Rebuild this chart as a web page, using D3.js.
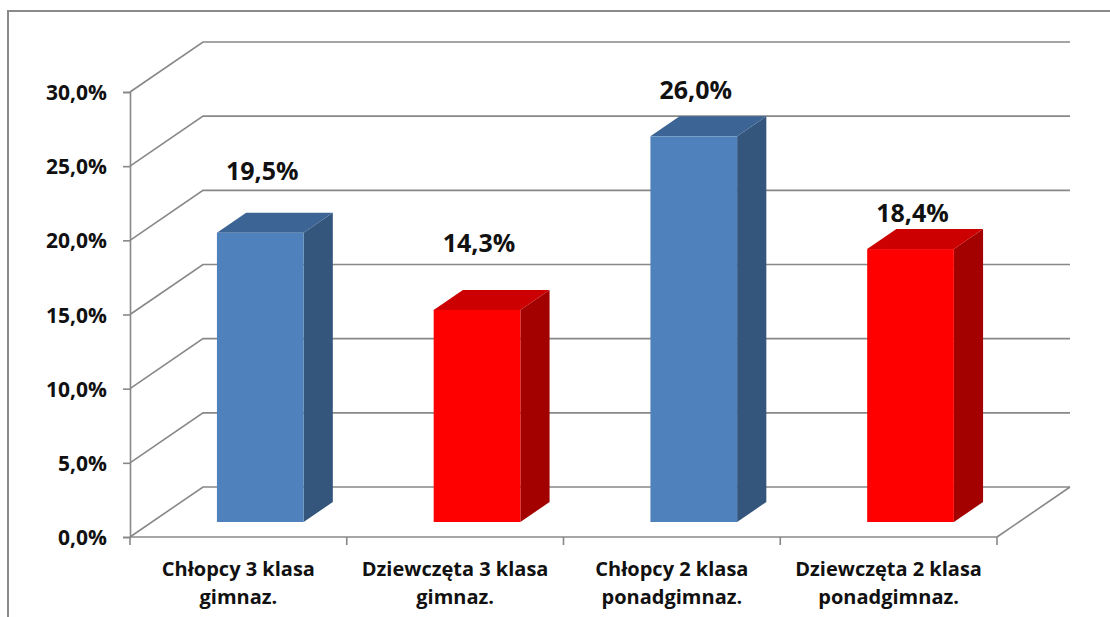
<!DOCTYPE html>
<html>
<head>
<meta charset="utf-8">
<script src="https://cdn.jsdelivr.net/npm/d3@7/dist/d3.min.js"></script>
<style>
  html, body { margin: 0; padding: 0; background: #fff; }
  svg { display: block; }
  text { font-family: "Open Sans", "DejaVu Sans", sans-serif; font-weight: 700; fill: #111; }
</style>
</head>
<body>
<svg id="chart" width="1110" height="617"></svg>
<script>
// Category labels (two lines each), shares and value axis ticks
const categories = ["Chłopcy 3 klasa|gimnaz.", "Dziewczęta 3 klasa|gimnaz.", "Chłopcy 2 klasa|ponadgimnaz.", "Dziewczęta 2 klasa|ponadgimnaz."];
const shares = [0.195, 0.143, 0.260, 0.184];
const seriesKind = ["boys", "girls", "boys", "girls"];
const yTicks = [0, 0.05, 0.10, 0.15, 0.20, 0.25, 0.30];

// Face colours for the 3D bars
const faces = {
  boys:  { front: "#4f81bd", top: "#3c6595", side: "#34557c" },
  girls: { front: "#ff0000", top: "#cc0000", side: "#a30000" }
};

const svg = d3.select("#chart");
const pl = d3.formatLocale({ decimal: ",", thousands: " ", grouping: [3], currency: ["", " zł"] });
const pct = pl.format(".1%");

// Front plane of the plot box and the depth offset of the back wall
const left = 130, right = 997, base = 537, topY = 92;
const depth = { dx: 73, dy: -50 };
const barFrom = 0.3, barTo = 0.7;   // bar position inside the floor depth
const barShare = 0.4;               // bar width as share of a category band

const x = d3.scaleBand().domain(categories).range([left, right]).padding(0);
const y = d3.scaleLinear().domain([0, 0.30]).range([base, topY]);

const grid = "#888888";

// Outer frame
svg.append("path")
  .attr("d", "M8,617 V11 H1110")
  .attr("fill", "none").attr("stroke", "#8a8a8a").attr("stroke-width", 2);

// Walls: back-wall gridlines and the left-wall diagonals
const wall = svg.append("g").attr("fill", "none").attr("stroke", grid).attr("stroke-width", 1.6);
yTicks.forEach(t => {
  const yy = y(t);
  wall.append("path")
    .attr("d", `M${left},${yy} L${left + depth.dx},${yy + depth.dy} H${right + depth.dx}`);
});
// Floor: right edge
wall.append("path")
  .attr("d", `M${right},${base} L${right + depth.dx},${base + depth.dy}`);

// Value axis
const yAxis = d3.axisLeft(y).tickValues(yTicks).tickSize(7).tickPadding(16).tickFormat(pct);
const gy = svg.append("g").attr("transform", `translate(${left},0)`).call(yAxis);
gy.select(".domain").attr("stroke", grid).attr("stroke-width", 1.6);
gy.selectAll(".tick line").attr("stroke", grid).attr("stroke-width", 1.6);
gy.selectAll(".tick text").attr("font-size", 21).attr("fill", "#111")
  .attr("font-family", null).attr("dy", "0.36em");

// Category axis with ticks between categories
const xAxis = d3.axisBottom(x).tickSize(0).tickPadding(0).tickFormat("");
const gx = svg.append("g").attr("transform", `translate(0,${base})`).call(xAxis);
gx.select(".domain").remove();
gx.append("line").attr("x1", left).attr("x2", right).attr("stroke", grid).attr("stroke-width", 1.6);
const bounds = categories.map(c => x(c)).concat([right]);
gx.selectAll("line.sep").data(bounds).join("line").attr("class", "sep")
  .attr("x1", d => d).attr("x2", d => d).attr("y1", 0).attr("y2", 8)
  .attr("stroke", grid).attr("stroke-width", 1.6);

categories.forEach(c => {
  const lines = c.split("|");
  const t = svg.append("text")
    .attr("text-anchor", "middle")
    .attr("font-size", 20);
  lines.forEach((ln, i) => {
    t.append("tspan").attr("x", x(c) + x.bandwidth() / 2).attr("y", 576 + i * 27.5).text(ln);
  });
});

// Bars
const bw = x.bandwidth() * barShare;
const f0 = { dx: depth.dx * barFrom, dy: depth.dy * barFrom };
const fd = { dx: depth.dx * (barTo - barFrom), dy: depth.dy * (barTo - barFrom) };

// Extra lift of each value label above its bar
const labelLift = [33, 38, 17, 7];

const bars = svg.append("g");
categories.forEach((c, i) => {
  const v = shares[i];
  const col = faces[seriesKind[i]];
  const x0 = x(c) + (x.bandwidth() - bw) / 2 + f0.dx;
  const x1 = x0 + bw;
  const yb = y(0) + f0.dy;
  const yt = y(v) + f0.dy;
  const g = bars.append("g");
  // side
  g.append("path").attr("fill", col.side)
    .attr("d", `M${x1},${yb} L${x1 + fd.dx},${yb + fd.dy} L${x1 + fd.dx},${yt + fd.dy} L${x1},${yt} Z`);
  // top
  g.append("path").attr("fill", col.top)
    .attr("d", `M${x0},${yt} L${x0 + fd.dx},${yt + fd.dy} L${x1 + fd.dx},${yt + fd.dy} L${x1},${yt} Z`);
  // front
  g.append("rect").attr("fill", col.front)
    .attr("x", x0).attr("y", yt).attr("width", bw).attr("height", yb - yt);
  // value label
  svg.append("text")
    .attr("text-anchor", "middle")
    .attr("font-size", 25)
    .attr("x", (x0 + x1) / 2 + 2)
    .attr("y", yt + fd.dy - labelLift[i])
    .text(pct(v));
});
</script>
</body>
</html>
